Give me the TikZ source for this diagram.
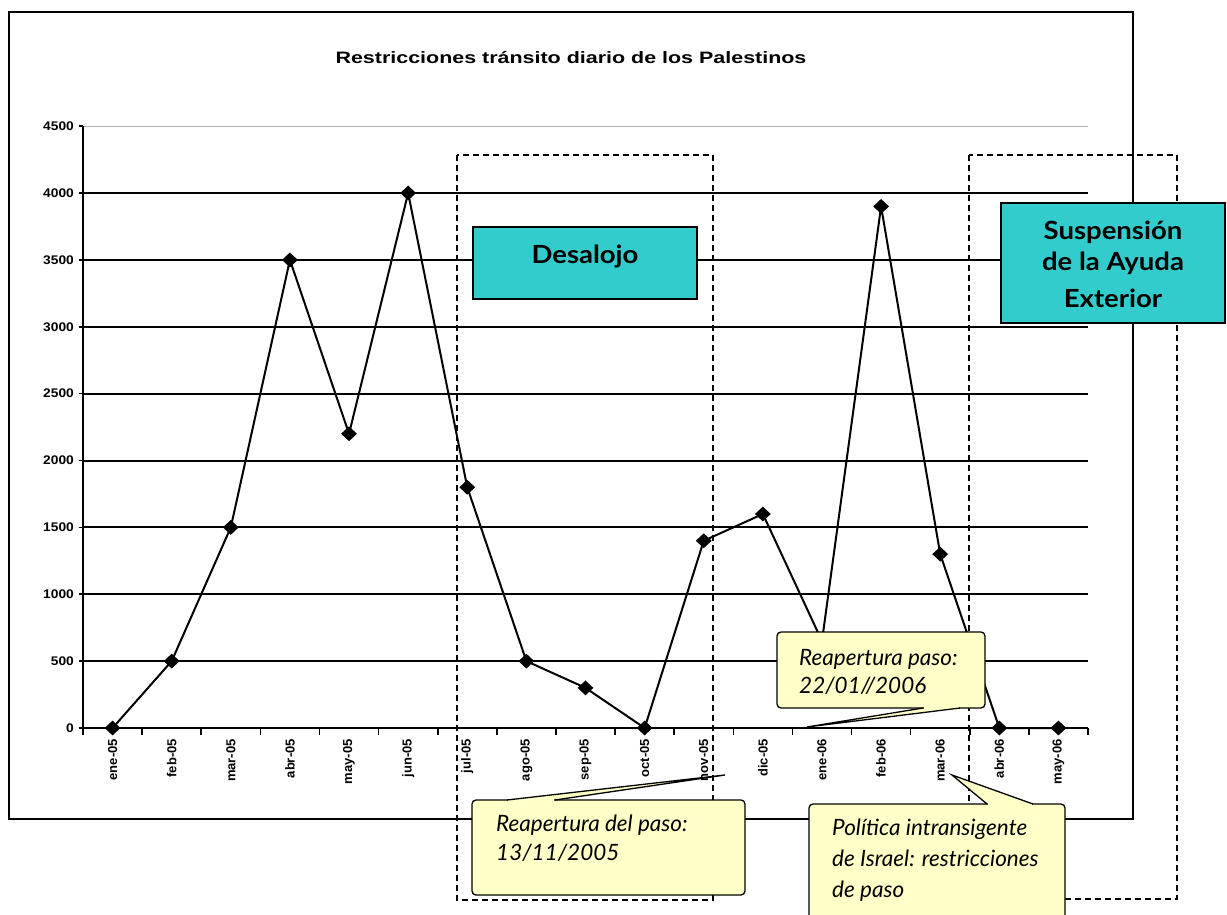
\documentclass[tikz,border=0pt]{standalone}
\usepackage{fontspec}
\setmainfont{Liberation Sans}
\newfontfamily\titlefont[FakeStretch=1.3]{Liberation Sans}
\newfontfamily\ylabfont[FakeStretch=1.1]{Liberation Sans}
\newfontfamily\gillfont{Lato}
\newfontfamily\gillwide[FakeStretch=1.1]{Lato}
\usetikzlibrary{shapes.geometric}
\definecolor{boxcyan}{HTML}{33CCCC}
\definecolor{noteyellow}{HTML}{FFFFC8}
\begin{document}
\begin{tikzpicture}[x=1pt,y=-1pt,
  gridline/.style={line width=2pt,black},
  axisline/.style={line width=2pt,black},
  dataline/.style={line width=2pt,black,line join=round},
  marker/.style={diamond,fill=black,inner sep=0pt,minimum width=16pt,minimum height=15pt},
  ylab/.style={anchor=east,font=\ylabfont\bfseries\fontsize{12.5}{14}\selectfont,inner sep=0pt},
  xlab/.style={anchor=east,rotate=90,font=\bfseries\fontsize{13}{15}\selectfont,inner sep=0pt},
  dashbox/.style={line width=1.3pt,dash pattern=on 6pt off 4pt},
  cyanbox/.style={draw=black,line width=1.6pt,fill=boxcyan,inner sep=0pt},
  boxtext/.style={font=\gillwide\bfseries\fontsize{25}{28}\selectfont,inner sep=0pt,anchor=base},
  notebox/.style={draw=black,line width=1.3pt,fill=noteyellow,rounded corners=4pt},
  noteedge/.style={draw=black,line width=1.3pt},
  notetext/.style={font=\gillfont\itshape\fontsize{22.5}{29}\selectfont,inner sep=0pt,anchor=base west}
]
\useasboundingbox (0,0) rectangle (1227,915);
\fill[white] (0,0) rectangle (1227,915);

% chart frame
\draw[line width=2pt] (9,12) rectangle (1133,819);

% title
\node[font=\titlefont\bfseries\fontsize{16.5}{19}\selectfont] (title) at (571,58) {Restricciones tránsito diario de los Palestinos};

% gridlines
\draw[gray!60,line width=0.6pt] (83,126) -- (1088,126);
\foreach \v in {500,1000,...,4000}
  \draw[gridline] (83,{728-0.13375*\v}) -- (1088,{728-0.13375*\v});

% y labels and ticks
\foreach \v in {0,500,...,4500}{
  \draw[line width=1.6pt] (78.5,{728-0.13375*\v}) -- (83,{728-0.13375*\v});
  \node[ylab] (y\v) at (74,{728-0.13375*\v}) {\v};
}

% axes
\draw[axisline] (83,126) -- (83,728);
\draw[axisline] (83,728) -- (1088,728);
\foreach \i in {0,...,17}
  \draw[line width=1.6pt] ({83+59.118*\i},728) -- ({83+59.118*\i},734.5);

% x labels
\foreach \t [count=\i] in {ene-05,feb-05,mar-05,abr-05,may-05,jun-05,jul-05,ago-05,sep-05,oct-05,nov-05,dic-05,ene-06,feb-06,mar-06,abr-06,may-06}
  \node[xlab] (x\i) at ({83+59.118*(\i-0.5)},739) {\t};

% data
\foreach \v [count=\i] in {0,500,1500,3500,2200,4000,1800,500,300,0,1400,1600,650,3900,1300,0,0}
  \coordinate (p\i) at ({83+59.118*(\i-0.5)},{728-0.13375*\v});
\draw[dataline] (p1) -- (p2) -- (p3) -- (p4) -- (p5) -- (p6) -- (p7) -- (p8) -- (p9) -- (p10) -- (p11) -- (p12) -- (p13) -- (p14) -- (p15) -- (p16) -- (p17);
\foreach \i in {1,...,17}
  \node[marker] (m\i) at (p\i) {};

% dashed period boxes
\draw[dashbox] (457,155) rectangle (713,900);
\draw[dashbox] (969,155) rectangle (1177,899);

% Desalojo
\node[cyanbox,minimum width=224pt,minimum height=72pt] (desbox) at (585,263) {};
\node[boxtext] (destext) at (585,263) {Desalojo};

% Suspension
\node[cyanbox,minimum width=224pt,minimum height=120pt] (susbox) at (1113,263) {};
\node[boxtext] (sus1) at (1113,239) {Suspensión};
\node[boxtext] (sus2) at (1113,270) {de la Ayuda};
\node[boxtext] (sus3) at (1113,307) {Exterior};

% callout 1
\coordinate (c1a) at (923,708);
\coordinate (c1b) at (960,708);
\coordinate (c1t) at (807,727);
\fill[noteyellow] (c1a) -- (c1t) -- (c1b) -- cycle;
\draw[notebox] (777,632) rectangle (985,708);
\fill[noteyellow] (924,706) rectangle (959,709.5);
\draw[noteedge] (c1a) -- (c1t) -- (c1b);
\node[notetext] (n1a) at (799,665) {Reapertura paso:};
\node[notetext] (n1b) at (799,693) {22/01//2006};

% callout 2
\coordinate (c2a) at (507,800);
\coordinate (c2b) at (555,800);
\coordinate (c2t) at (725,775);
\fill[noteyellow] (c2a) -- (c2t) -- (c2b) -- cycle;
\draw[notebox] (472,800) rectangle (745,895);
\fill[noteyellow] (508,798.5) rectangle (554,802);
\draw[noteedge] (c2a) -- (c2t) -- (c2b);
\node[notetext] (n2a) at (496,831) {Reapertura del paso:};
\node[notetext] (n2b) at (496,860) {13/11/2005};

% callout 3
\coordinate (c3a) at (987,804);
\coordinate (c3b) at (1033,804);
\coordinate (c3t) at (952,775);
\fill[noteyellow] (c3a) -- (c3t) -- (c3b) -- cycle;
\draw[notebox] (809,804) rectangle (1065,940);
\fill[noteyellow] (988,802.5) rectangle (1032,806);
\draw[noteedge] (c3a) -- (c3t) -- (c3b);
\node[notetext] (n3a) at (832,835) {Política intransigente};
\node[notetext] (n3b) at (832,866) {de Israel: restricciones};
\node[notetext] (n3c) at (832,897) {de paso};
\end{tikzpicture}
\end{document}
